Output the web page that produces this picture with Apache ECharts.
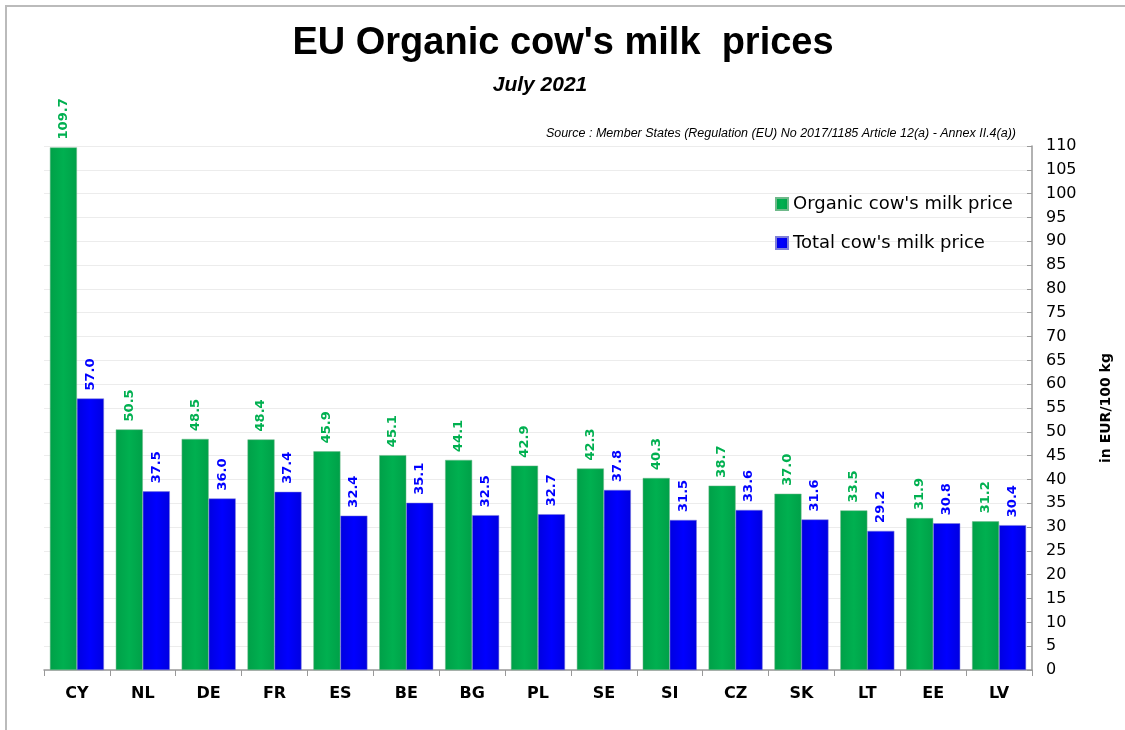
<!DOCTYPE html>
<html>
<head>
<meta charset="utf-8">
<script src="https://cdn.jsdelivr.net/npm/echarts@6/dist/echarts.min.js"></script>
<style>
  html, body { margin: 0; padding: 0; background: #fff; }
  #main { width: 1125px; height: 730px; }
</style>
</head>
<body>
<div id="main"></div>
<script>
// data
var countries = ['CY', 'NL', 'DE', 'FR', 'ES', 'BE', 'BG', 'PL', 'SE', 'SI', 'CZ', 'SK', 'LT', 'EE', 'LV'];
var organicPrice = [109.7, 50.5, 48.5, 48.4, 45.9, 45.1, 44.1, 42.9, 42.3, 40.3, 38.7, 37.0, 33.5, 31.9, 31.2];
var totalPrice = [57.0, 37.5, 36.0, 37.4, 32.4, 35.1, 32.5, 32.7, 37.8, 31.5, 33.6, 31.6, 29.2, 30.8, 30.4];

var chart = echarts.init(document.getElementById('main'));

//柱子渐变色
function barColor(mid, edge) {
  return new echarts.graphic.LinearGradient(0, 0, 1, 0, [
    { offset: 0, color: edge },
    { offset: 0.5, color: mid },
    { offset: 1, color: edge }
  ]);
}

var labelFont = 'Verdana, "DejaVu Sans", sans-serif';

var option = {
  backgroundColor: '#fff',
  animation: false,
  title: [{
    text: "EU Organic cow's milk  prices",
    left: 558, top: 20, textAlign: 'center',
    textStyle: { fontFamily: '"Liberation Sans", Arial, sans-serif', fontSize: 38, fontWeight: 'bold', color: '#000' }
  }, {
    text: 'July 2021',
    left: 535, top: 70, textAlign: 'center',
    textStyle: { fontFamily: '"Liberation Sans", Arial, sans-serif', fontSize: 21, fontWeight: 'bold', fontStyle: 'italic', color: '#000' }
  }, {
    text: 'Source : Member States (Regulation (EU) No 2017/1185 Article 12(a) - Annex II.4(a))',
    right: 104, top: 122,
    textStyle: { fontFamily: '"Liberation Sans", Arial, sans-serif', fontSize: 12.5, fontStyle: 'italic', fontWeight: 'normal', color: '#000' }
  }],
  legend: {
    orient: 'vertical',
    left: 770, top: 190,
    itemGap: 21,
    itemWidth: 12, itemHeight: 12,
    icon: 'rect',
    textStyle: { fontFamily: labelFont, fontSize: 18, color: '#000' },
    data: ["Organic cow's milk price", "Total cow's milk price"]
  },
  grid: { left: 44, right: 93, top: 146, bottom: 60 },
  xAxis: {
    type: 'category',
    data: countries,
    axisLine: { lineStyle: { color: '#999', width: 1.5 } },
    axisTick: { show: true, length: 6, lineStyle: { color: '#999' } },
    axisLabel: { fontFamily: labelFont, fontSize: 16, fontWeight: 'bold', color: '#000', margin: 16 }
  },
  yAxis: {
    type: 'value',
    position: 'right',
    min: 0, max: 110, interval: 5,
    name: 'in EUR/100 kg',
    nameLocation: 'middle',
    nameRotate: 90,
    nameGap: 67,
    nameTextStyle: { fontFamily: labelFont, fontSize: 14, fontWeight: 'bold', color: '#000' },
    axisLine: { show: true, lineStyle: { color: '#999', width: 1.5 } },
    axisTick: { show: true, inside: true, length: 5, lineStyle: { color: '#999' } },
    axisLabel: { fontFamily: labelFont, fontSize: 16, color: '#000', margin: 14 },
    splitLine: { lineStyle: { color: '#ececec' } }
  },
  series: [{
    name: "Organic cow's milk price",
    type: 'bar',
    data: organicPrice,
    barGap: '0%',
    barCategoryGap: '18%',
    itemStyle: { color: barColor('#00b050', '#00a048'), borderColor: '#6fb98a', borderWidth: 0.5 },
    label: {
      show: true, position: 'top', rotate: 90, align: 'left', verticalAlign: 'middle', distance: 8,
      formatter: function (p) { return p.value.toFixed(1); },
      fontFamily: labelFont, fontSize: 13, fontWeight: 'bold', color: '#00b050'
    }
  }, {
    name: "Total cow's milk price",
    type: 'bar',
    data: totalPrice,
    itemStyle: { color: barColor('#0000ff', '#0000e0'), borderColor: '#7f7fd8', borderWidth: 0.5 },
    label: {
      show: true, position: 'top', rotate: 90, align: 'left', verticalAlign: 'middle', distance: 8,
      formatter: function (p) { return p.value.toFixed(1); },
      fontFamily: labelFont, fontSize: 13, fontWeight: 'bold', color: '#0000ff'
    }
  }],
  graphic: [{
    type: 'polyline',
    shape: { points: [[6, 730], [6, 6], [1125, 6]] },
    style: { stroke: '#bbb', lineWidth: 2, fill: null }
  }]
};

chart.setOption(option);
window.onresize = chart.resize;
</script>
</body>
</html>
